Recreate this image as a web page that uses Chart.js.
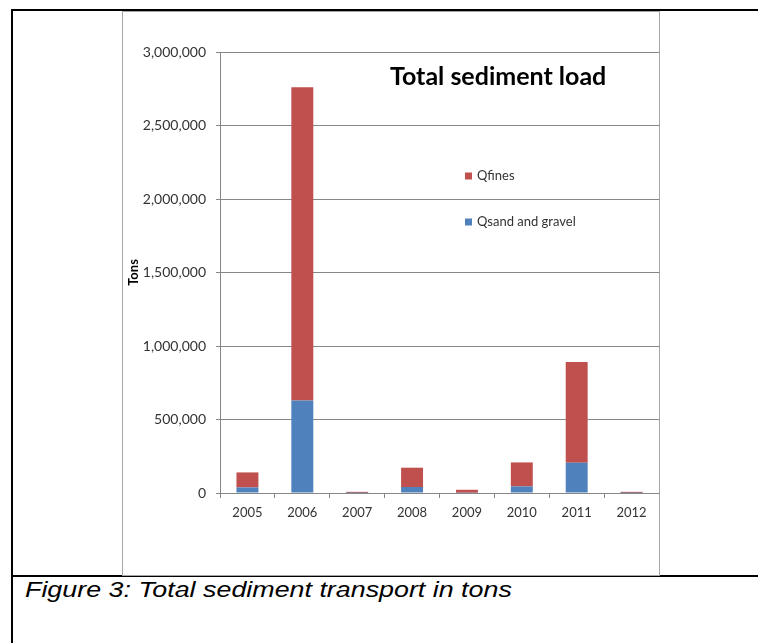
<!DOCTYPE html>
<html>
<head>
<meta charset="utf-8">
<script src="https://cdn.jsdelivr.net/npm/chart.js@4/dist/chart.umd.min.js"></script>
<style>
    body { margin: 0; background: #fff; width: 758px; height: 643px; overflow: hidden; position: relative; }
    .linha { position: absolute; background: #000; }
    #caixaGrafico { position: absolute; left: 122px; top: 11px; width: 536px; height: 563px; border: 1px solid #a6a6a6; background: #fff; }
    #grafico { position: absolute; left: 0; top: 0; }
    #legenda { position: absolute; left: 25px; top: 577px; font-family: "Liberation Sans", Arial, sans-serif; font-style: italic; font-size: 22px; color: #000; white-space: nowrap; transform-origin: left top; transform: scaleX(1.22); }
</style>
</head>
<body>
<div class="linha" style="left:11px; top:9px; width:747px; height:2px;"></div>
<div class="linha" style="left:11px; top:9px; width:2px; height:634px;"></div>
<div class="linha" style="left:11px; top:575px; width:747px; height:2px;"></div>
<div id="caixaGrafico"><canvas id="grafico" width="536" height="563"></canvas></div>
<div id="legenda">Figure 3: Total sediment transport in tons</div>

<script>
// anos e toneladas por ano
const anos = ['2005', '2006', '2007', '2008', '2009', '2010', '2011', '2012'];
const areiaCascalho = [38000, 630000, 1000, 41000, 2000, 45000, 206000, 1000];
const finos = [102000, 2130000, 7000, 131000, 20000, 163000, 685000, 7000];
const nomesSeries = ['Qsand and gravel', 'Qfines'];
const coresSeries = ['#4f81bd', '#c0504d'];
const tituloGrafico = 'Total sediment load';
const eixoMax = 3000000;
const eixoPasso = 500000;

// titulo e legenda ficam dentro da area do grafico
const tituloELegenda = {
    id: 'tituloELegenda',
    afterDraw(chart) {
        const ctx = chart.ctx;
        const area = chart.chartArea;
        ctx.save();
        ctx.fillStyle = '#000';
        ctx.font = 'bold 25px Lato';
        ctx.textBaseline = 'alphabetic';
        ctx.fillText(tituloGrafico, area.left + 170, area.top + 33);

        ctx.font = '13px Lato';
        ctx.textBaseline = 'middle';
        // Qfines em cima, Qsand embaixo
        const ordem = [1, 0];
        ordem.forEach((i, n) => {
            const y = area.top + 124 + n * 46;
            ctx.fillStyle = chart.data.datasets[i].backgroundColor;
            ctx.fillRect(area.left + 245, y - 3.5, 7, 7);
            ctx.fillStyle = '#333';
            ctx.fillText(chart.data.datasets[i].label, area.left + 257, y);
        });
        ctx.restore();
    }
};

function criarGrafico() {
    const ctx = document.getElementById('grafico').getContext('2d');
    new Chart(ctx, {
        type: 'bar',
        data: {
            labels: anos,
            datasets: [
                { label: nomesSeries[0], data: areiaCascalho, backgroundColor: coresSeries[0], barPercentage: 0.4, categoryPercentage: 1 },
                { label: nomesSeries[1], data: finos, backgroundColor: coresSeries[1], barPercentage: 0.4, categoryPercentage: 1 }
            ]
        },
        options: {
            responsive: false,
            animation: false,
            devicePixelRatio: 1,
            layout: { padding: { top: 40, right: 0, left: 0, bottom: 0 } },
            plugins: {
                legend: { display: false },
                tooltip: { enabled: false }
            },
            scales: {
                x: {
                    stacked: true,
                    afterFit: s => { s.height = 82; },
                    grid: { drawOnChartArea: false, drawTicks: true, tickLength: 5, color: '#868686' },
                    border: { color: '#868686' },
                    ticks: { padding: 7, color: '#333', font: { family: 'Lato', size: 13 } }
                },
                y: {
                    stacked: true,
                    min: 0,
                    max: eixoMax,
                    afterFit: s => { s.width = 97; },
                    grid: { color: '#868686', tickLength: 4 },
                    border: { color: '#868686' },
                    ticks: {
                        stepSize: eixoPasso,
                        padding: 10,
                        color: '#333',
                        font: { family: 'Lato', size: 14 },
                        callback: v => v.toLocaleString('en-US')
                    },
                    title: {
                        display: true,
                        text: 'Tons',
                        color: '#000',
                        padding: { top: 3, bottom: 0 },
                        font: { family: 'Lato', size: 13, weight: 'bold' }
                    }
                }
            }
        },
        plugins: [tituloELegenda]
    });
}

window.onload = criarGrafico;
</script>
</body>
</html>
